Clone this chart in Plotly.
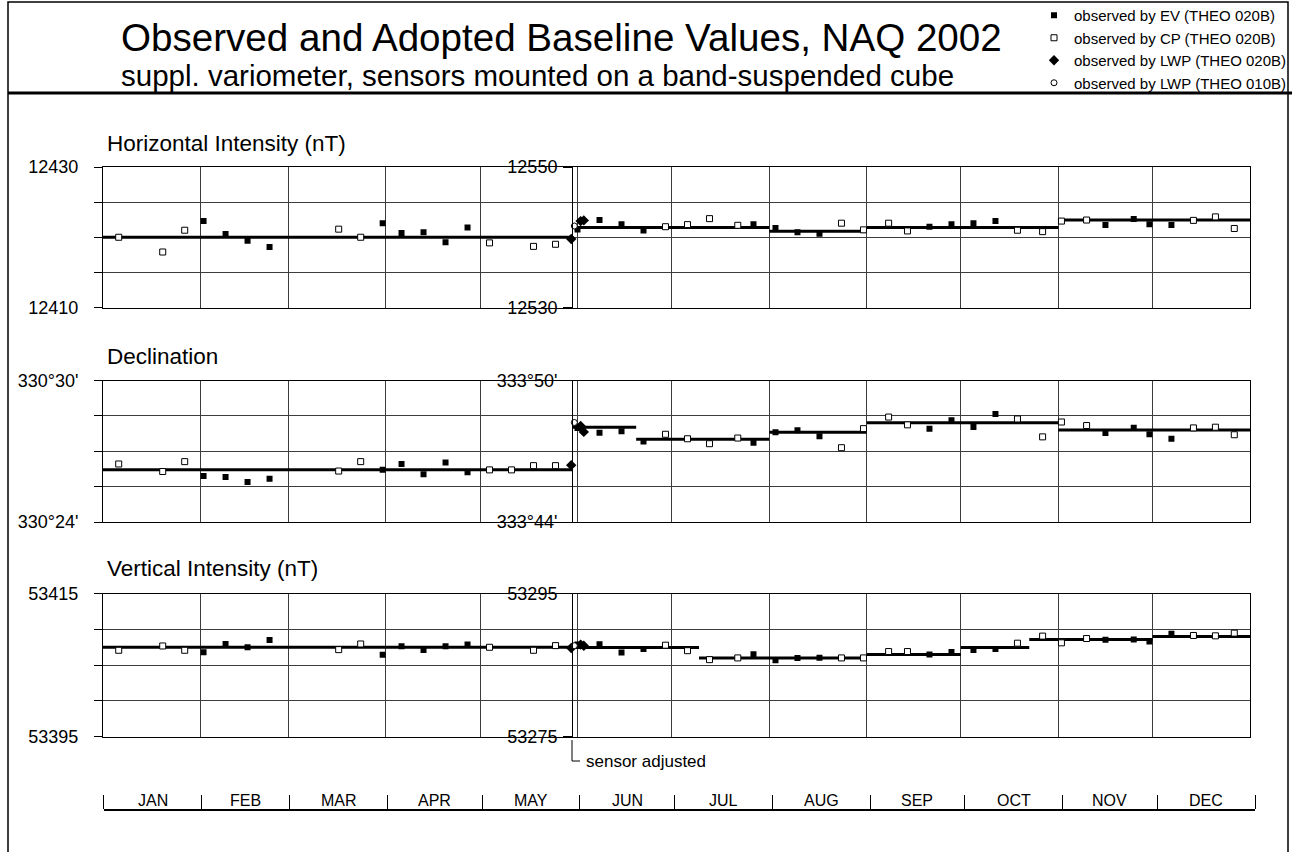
import pandas as pd
import plotly.graph_objects as go

FIG_W, FIG_H = 1292, 852
FONT = "Liberation Sans, Arial, Helvetica, sans-serif"
GRID = "#3c3c3c"

# ---------------------------------------------------------------------------
# Absolute observations 2002 (NAQ), one entry per observation
# ---------------------------------------------------------------------------
obs_date = [
    "2002-01-06", "2002-01-20", "2002-01-27", "2002-02-02", "2002-02-09", "2002-02-16", "2002-02-23",
    "2002-03-17", "2002-03-24", "2002-03-31", "2002-04-06", "2002-04-13", "2002-04-20", "2002-04-27",
    "2002-05-04", "2002-05-11", "2002-05-18", "2002-05-25", "2002-05-30",
    "2002-05-31", "2002-06-01", "2002-06-02", "2002-06-03", "2002-06-08", "2002-06-15", "2002-06-22",
    "2002-06-29", "2002-07-06", "2002-07-13", "2002-07-22", "2002-07-27", "2002-08-03", "2002-08-10",
    "2002-08-17", "2002-08-24", "2002-08-31", "2002-09-08", "2002-09-14", "2002-09-21", "2002-09-28",
    "2002-10-05", "2002-10-12", "2002-10-19", "2002-10-27", "2002-11-02", "2002-11-10", "2002-11-16",
    "2002-11-25", "2002-11-30", "2002-12-07", "2002-12-14", "2002-12-21", "2002-12-27",
]
obs_by = [
    "CP", "CP", "CP", "EV", "EV", "EV", "EV",
    "CP", "CP", "EV", "EV", "EV", "EV", "EV",
    "CP", "CP", "CP", "CP", "LWP020",
    "LWP010", "EV", "LWP020", "LWP020", "EV", "EV", "EV",
    "CP", "CP", "CP", "CP", "EV", "EV", "EV",
    "EV", "CP", "CP", "CP", "CP", "EV", "EV",
    "EV", "EV", "CP", "CP", "CP", "CP", "EV",
    "EV", "EV", "EV", "CP", "CP", "CP",
]
# horizontal intensity, nT
H_obs = [
    12420.0, 12417.9, 12421.0, 12422.3, 12420.45, 12419.5, 12418.6,
    12421.15, 12420.0, 12422.0, 12420.6, 12420.7, 12419.3, 12421.4,
    12419.2, None, 12418.7, 12419.0, 12419.75,
    12541.6, 12541.1, 12542.3, 12542.4, 12542.46, 12541.85, 12540.96,
    12541.5, 12541.8, 12542.65, 12541.7, 12541.85, 12541.3, 12540.7,
    12540.5, 12542.0, 12541.05, 12542.0, 12540.9, 12541.5, 12541.85,
    12542.0, 12542.3, 12541.0, 12540.8, 12542.3, 12542.45, 12541.75,
    12542.6, 12541.85, 12541.75, 12542.4, 12542.9, 12541.25,
]
# declination, arc minutes (330 deg before the adjustment, 333 deg after it)
D_obs = [
    26.46, 26.14, 26.56, 25.95, 25.91, 25.70, 25.83,
    26.16, 26.56, 26.22, 26.46, 26.02, 26.52, 26.11,
    26.21, 26.21, 26.39, 26.39, 26.41,
    48.22, 47.99, 48.07, 47.82, 47.78, 47.85, 47.41,
    47.72, 47.53, 47.32, 47.56, 47.36, 47.81, 47.89,
    47.64, 47.15, 47.96, 48.45, 48.12, 47.95, 48.31,
    48.03, 48.58, 48.37, 47.61, 48.24, 48.09, 47.77,
    48.00, 47.72, 47.53, 47.99, 48.02, 47.70,
]
# vertical intensity, nT
Z_obs = [
    53407.06, 53407.66, 53407.06, 53406.78, 53407.94, 53407.48, 53408.5,
    53407.15, 53407.94, 53406.45, 53407.62, 53407.1, 53407.62, 53407.85,
    53407.48, None, 53407.06, 53407.71, 53407.38,
    53287.7, 53287.85, 53287.85, 53287.7, 53287.9, 53286.74, 53287.25,
    53287.77, 53287.0, 53285.75, 53285.99, 53286.5, 53285.66, 53285.99,
    53286.03, 53285.99, 53285.99, 53286.88, 53286.88, 53286.46, 53286.83,
    53287.1, 53287.25, 53288.05, 53289.04, 53288.1, 53288.7, 53288.52,
    53288.57, 53288.29, 53289.37, 53289.13, 53289.08, 53289.46,
]

ADJUSTED = "2002-05-30 06:00"      # sensor adjustment
YEAR_START, YEAR_END = "2002-01-01", "2003-01-01"

# adopted baselines: each value holds from its start date to the next one
H_base_from = [YEAR_START, ADJUSTED, "2002-08-01", "2002-09-01", "2002-11-01"]
H_base = [12420.0, 12541.4, 12540.87, 12541.4, 12542.46]
D_base_from = [YEAR_START, ADJUSTED, "2002-06-19 16:00", "2002-08-01", "2002-09-01", "2002-11-01"]
D_base = [26.22, 48.02, 47.51, 47.81, 48.21, 47.90]
Z_base_from = [YEAR_START, ADJUSTED, "2002-07-09 16:00", "2002-09-01", "2002-10-01",
               "2002-10-22 18:00", "2002-12-01"]
Z_base = [53407.48, 53287.44, 53285.99, 53286.46, 53287.44, 53288.57, 53289.0]

MONTHS = ["JAN", "FEB", "MAR", "APR", "MAY", "JUN", "JUL", "AUG", "SEP", "OCT", "NOV", "DEC"]

OBSERVERS = ["EV", "CP", "LWP020", "LWP010"]
OBS_NAME = {
    "EV": "observed by EV (THEO 020B)",
    "CP": "observed by CP (THEO 020B)",
    "LWP020": "observed by LWP (THEO 020B)",
    "LWP010": "observed by LWP (THEO 010B)",
}
OBS_MARKER = {
    "EV": dict(symbol="square", size=6, color="black", line=dict(width=0)),
    "CP": dict(symbol="square", size=6, color="white", line=dict(color="black", width=1)),
    "LWP020": dict(symbol="diamond", size=8, color="black", line=dict(width=0)),
    "LWP010": dict(symbol="circle", size=6, color="white", line=dict(color="black", width=1)),
}

panels = [
    dict(label="Horizontal Intensity (nT)", obs=H_obs, base_from=H_base_from, base=H_base,
         left=(12410, 12430), right=(12530, 12550),
         left_txt=("12410", "12430"), right_txt=("12530", "12550"),
         top=167, bottom=307.5, label_y=143),
    dict(label="Declination", obs=D_obs, base_from=D_base_from, base=D_base,
         left=(24, 30), right=(44, 50),
         left_txt=("330°24'", "330°30'"), right_txt=("333°44'", "333°50'"),
         top=380.5, bottom=522, label_y=356),
    dict(label="Vertical Intensity (nT)", obs=Z_obs, base_from=Z_base_from, base=Z_base,
         left=(53395, 53415), right=(53275, 53295),
         left_txt=("53395", "53415"), right_txt=("53275", "53295"),
         top=593.5, bottom=736.5, label_y=568),
]


def px(x):
    return x / FIG_W


def py(y):
    return 1 - y / FIG_H


t0, t1, t_adj = pd.Timestamp(YEAR_START), pd.Timestamp(YEAR_END), pd.Timestamp(ADJUSTED)
X0, X1 = px(103), px(1250)
adj_pos = X0 + (t_adj - t0) / (t1 - t0) * (X1 - X0)

month_starts = [str(d.date()) for d in pd.date_range(YEAR_START, YEAR_END, freq="MS")]
mid_months = [str(pd.Timestamp(a) + (pd.Timestamp(b) - pd.Timestamp(a)) / 2)
              for a, b in zip(month_starts[:-1], month_starts[1:])]

fig = go.Figure()
layout = {}

for i, p in enumerate(panels):
    sfx = "" if i == 0 else str(i + 1)
    xa, yl, yr = f"x{sfx}", f"y{sfx}", f"y{i + 4}"

    # adopted baseline segments, split onto the two scales
    bounds = p["base_from"] + [YEAR_END]
    for pre, yref in ((True, yl), (False, yr)):
        xs, ys = [], []
        for k, v in enumerate(p["base"]):
            if (pd.Timestamp(bounds[k]) < t_adj) != pre:
                continue
            xs += [bounds[k], bounds[k + 1], None]
            ys += [v, v, None]
        fig.add_trace(go.Scatter(x=xs, y=ys, mode="lines", xaxis=xa, yaxis=yref,
                                 line=dict(color="black", width=3),
                                 showlegend=False, hoverinfo="skip"))

    # observations
    for code in OBSERVERS:
        for pre, yref in ((True, yl), (False, yr)):
            sel = [j for j in range(len(obs_date))
                   if obs_by[j] == code and p["obs"][j] is not None
                   and (pd.Timestamp(obs_date[j]) < t_adj) == pre]
            fig.add_trace(go.Scatter(
                x=[obs_date[j] for j in sel], y=[p["obs"][j] for j in sel],
                mode="markers", xaxis=xa, yaxis=yref, marker=OBS_MARKER[code],
                name=OBS_NAME[code], legendgroup=code,
                showlegend=(i == 0 and not pre),
            ))

    lo, hi = p["left"]
    step = (hi - lo) / 4
    layout[f"xaxis{sfx}"] = dict(
        domain=[X0, X1], anchor=yl, type="date", range=[YEAR_START, YEAR_END],
        tickvals=month_starts[1:12], showticklabels=False, ticks="",
        showgrid=True, gridcolor=GRID, gridwidth=1, automargin=False,
        showline=True, mirror=True, linecolor="black", linewidth=1, zeroline=False,
    )
    layout[f"yaxis{sfx}"] = dict(
        domain=[py(p["bottom"]), py(p["top"])], anchor=xa, range=[lo, hi],
        tickvals=[lo + k * step for k in range(5)],
        ticktext=[p["left_txt"][0], "", "", "", p["left_txt"][1]],
        ticks="outside", ticklen=8, tickcolor="black", ticklabelstandoff=12,
        tickfont=dict(size=18, color="black"), automargin=False,
        showgrid=True, gridcolor=GRID, gridwidth=1,
        showline=True, mirror=True, linecolor="black", linewidth=1, zeroline=False,
    )
    layout[f"yaxis{i + 4}"] = dict(
        overlaying=yl, anchor="free", position=adj_pos, side="left",
        range=list(p["right"]), tickvals=list(p["right"]), ticktext=list(p["right_txt"]),
        ticks="outside", ticklen=9, tickcolor="black", ticklabelstandoff=2,
        tickfont=dict(size=18, color="black"), automargin=False,
        showgrid=False, showline=True, linecolor="black", linewidth=1, zeroline=False,
    )

# month strip under the panels
fig.add_trace(go.Scatter(x=[], y=[], xaxis="x4", yaxis="y7", showlegend=False, hoverinfo="skip"))
layout["xaxis4"] = dict(
    domain=[px(103.6), px(1255)], anchor="y7", side="top", type="date",
    range=[YEAR_START, YEAR_END], tickvals=month_starts, showticklabels=False,
    ticks="outside", ticklen=14, tickcolor="black", tickwidth=1,
    showgrid=False, zeroline=False, automargin=False,
    showline=True, linecolor="black", linewidth=1.5,
)
layout["yaxis7"] = dict(domain=[py(812), py(811)], anchor="x4", visible=False, range=[0, 1],
                        automargin=False)

annotations = [
    dict(text="Observed and Adopted Baseline Values, NAQ 2002", x=px(119), y=py(38),
         xanchor="left", yanchor="middle", font=dict(size=38.6)),
    dict(text="suppl. variometer, sensors mounted on a band-suspended cube", x=px(119), y=py(75),
         xanchor="left", yanchor="middle", font=dict(size=29.5)),
    dict(text="sensor adjusted", xref="x3", x=ADJUSTED, xshift=12, y=py(761),
         xanchor="left", yanchor="middle", font=dict(size=17)),
]
for p in panels:
    annotations.append(dict(text=p["label"], x=px(105), y=py(p["label_y"]),
                            xanchor="left", yanchor="middle", font=dict(size=22.5)))
for name, mid in zip(MONTHS, mid_months):
    annotations.append(dict(text=name, xref="x4", x=mid, y=py(800),
                            xanchor="center", yanchor="middle", font=dict(size=16)))
for a in annotations:
    a.setdefault("xref", "paper")
    a["yref"] = "paper"
    a["showarrow"] = False

shapes = [
    dict(type="rect", xref="paper", yref="paper", x0=px(8), x1=px(1288), y0=-0.05, y1=py(2),
         line=dict(color="black", width=1.5)),
    dict(type="line", xref="paper", yref="paper", x0=px(8), x1=1, y0=py(93), y1=py(93),
         line=dict(color="black", width=3)),
    dict(type="line", xref="x3", yref="paper", x0=ADJUSTED, x1=ADJUSTED, y0=py(740), y1=py(761),
         line=dict(color="black", width=1)),
    dict(type="line", xref="x3", yref="paper", xsizemode="pixel", xanchor=ADJUSTED, x0=0, x1=8,
         y0=py(761), y1=py(761), line=dict(color="black", width=1)),
]

fig.update_layout(
    width=FIG_W, height=FIG_H, margin=dict(l=0, r=0, t=0, b=0, pad=0, autoexpand=False),
    paper_bgcolor="white", plot_bgcolor="white",
    font=dict(family=FONT, color="black"),
    showlegend=True,
    legend=dict(x=px(1034), y=py(-1), xanchor="left", yanchor="top",
                font=dict(size=15, family=FONT), bgcolor="rgba(0,0,0,0)",
                tracegroupgap=0, itemwidth=30),
    annotations=annotations, shapes=shapes,
    **layout,
)

fig.write_html("out.html")
